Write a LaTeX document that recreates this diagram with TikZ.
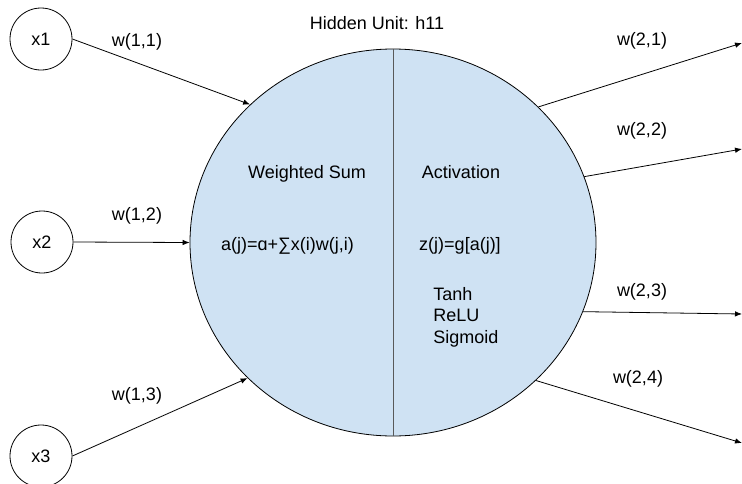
\documentclass[tikz,border=0pt]{standalone}
\usepackage{fontspec}
\setmainfont{Liberation Sans}
\usepackage{tikz}
\usetikzlibrary{arrows.meta,positioning,shapes.geometric}
\definecolor{unitblue}{HTML}{CFE2F3}
\definecolor{splitgray}{HTML}{595959}

\begin{document}
\begin{tikzpicture}[x=1pt, y=-1pt, line width=0.8pt,
    every node/.style={font=\fontsize{18}{21.5}\selectfont},
    inp/.style={draw, circle, minimum size=62pt, inner sep=0pt},
    wt/.style={-{Latex[length=7pt,width=5.5pt]}},
    lbl/.style={anchor=base}]
    \useasboundingbox (0,0) rectangle (742,483);
    \clip (0,0) rectangle (742,483);
    % hidden unit
    \node[draw, ellipse, fill=unitblue, minimum width=406pt, minimum height=387pt, inner sep=0pt] (h) at (393,242.5) {};
    \draw[splitgray] (h.north) -- (h.south);
    \node[lbl] (title) at (377,29.5) {Hidden Unit: h11};
    \node[lbl] (wsum) at (307,178) {Weighted Sum};
    \node[lbl] (act) at (461,178) {Activation};
    \node[lbl] (aj) at (287.5,250) {a(j)=ɑ+∑x(i)w(j,i)};
    \node[lbl] (zj) at (460,250) {z(j)=g[a(j)]};
    \node[anchor=north west, align=left, inner sep=0pt] (fns) at (433,287) {Tanh\\ReLU\\Sigmoid};
    % inputs
    \node[inp] (x1) at (41,39) {x1};
    \node[inp] (x2) at (42,242) {x2};
    \node[inp] (x3) at (41,456) {x3};
    \draw[wt] (x1.east) -- (h.136.7);
    \draw[wt] (x2.east) -- (h.west);
    \draw[wt] (x3.east) -- (h.223.3);
    \node[lbl] (w11) at (137,46) {w(1,1)};
    \node[lbl] (w12) at (137,220) {w(1,2)};
    \node[lbl] (w13) at (137,400) {w(1,3)};
    % outputs
    \coordinate (o1) at (742,43);
    \coordinate (o2) at (742,149);
    \coordinate (o3) at (742,314);
    \coordinate (o4) at (742,443);
    \draw[wt] (h.43.7) -- (o1);
    \draw[wt] (h.19.6) -- (o2);
    \draw[wt] (h.340.2) -- (o3);
    \draw[wt] (h.316.3) -- (o4);
    \node[lbl] (w21) at (642,45) {w(2,1)};
    \node[lbl] (w22) at (642,135) {w(2,2)};
    \node[lbl] (w23) at (642,296) {w(2,3)};
    \node[lbl] (w24) at (638,383) {w(2,4)};
\end{tikzpicture}
\end{document}
